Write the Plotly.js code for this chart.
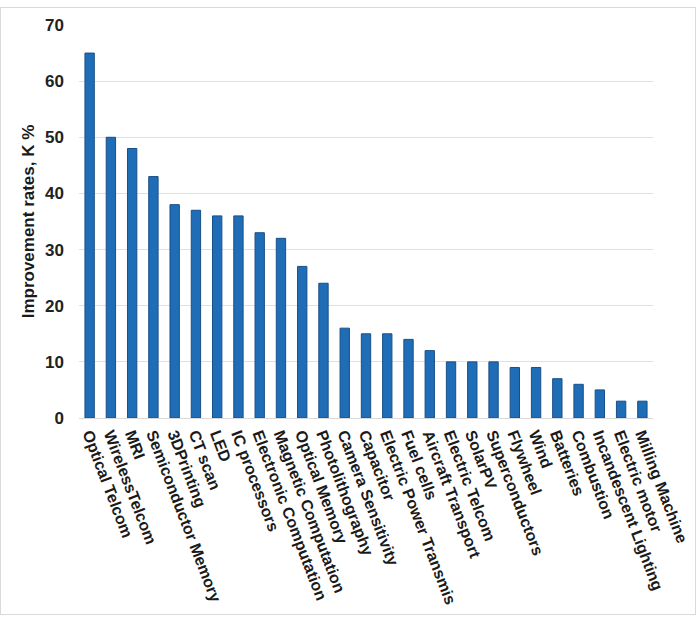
<!DOCTYPE html>
<html>
<head>
<meta charset="utf-8">
<script src="https://cdn.plot.ly/plotly-3.0.1.min.js"></script>
<style>
html,body{margin:0;padding:0;background:#fff;}
#frame{position:absolute;left:0;top:7px;width:696px;height:608px;border:1px solid #d9d9d9;box-sizing:border-box;}
#chart{position:absolute;left:0;top:0;width:700px;height:622px;}
</style>
</head>
<body>
<div id="frame"></div>
<div id="chart"></div>
<script>
const categories = ["Optical Telcom","WirelessTelcom","MRI","Semiconductor Memory","3DPrinting","CT scan","LED","IC processors","Electronic Computation","Magnetic Computation","Optical Memory","Photolithography","Camera Sensitivity","Capacitor","Electric Power Transmis","Fuel cells","Aircraft Transport","Electric Telcom","SolarPV","Superconductors","Flywheel","Wind","Batteries","Combustion","Incandescent Lighting","Electric motor","Milling Machine"];
const values = [65,50,48,43,38,37,36,36,33,32,27,24,16,15,15,14,12,10,10,10,9,9,7,6,5,3,3];
const yTicks = [0,10,20,30,40,50,60,70];

const trace = {
  type: 'bar',
  x: categories,
  y: values,
  marker: {color: '#1f6db7', line: {color: '#194f88', width: 1}},
  hoverinfo: 'x+y'
};
const layout = {
  width: 700, height: 622,
  margin: {l: 79, r: 47, t: 25, b: 204},
  paper_bgcolor: 'rgba(0,0,0,0)',
  plot_bgcolor: '#fff',
  bargap: 0.56,
  showlegend: false,
  font: {family: 'Liberation Sans, Arial, sans-serif', color: '#1a1a1a'},
  xaxis: {
    type: 'category',
    tickangle: 69,
    tickfont: {size: 16, weight: 'bold'},
    showline: true, linecolor: '#d9d9d9', linewidth: 1,
    ticks: '', showgrid: false, automargin: false
  },
  yaxis: {
    range: [0, 70],
    tickvals: yTicks,
    tickfont: {size: 17, weight: 'bold', color: '#222'},
    ticklabelstandoff: 14,
    showgrid: true, gridcolor: '#e0e0e0', gridwidth: 1,
    zeroline: false, showline: false, ticks: '', ticklen: 0,
    title: {text: 'Improvement rates, K %', font: {size: 17, weight: 'bold'}, standoff: 6},
    automargin: false
  }
};
Plotly.newPlot('chart', [trace], layout, {displayModeBar: false, staticPlot: true});
</script>
</body>
</html>
